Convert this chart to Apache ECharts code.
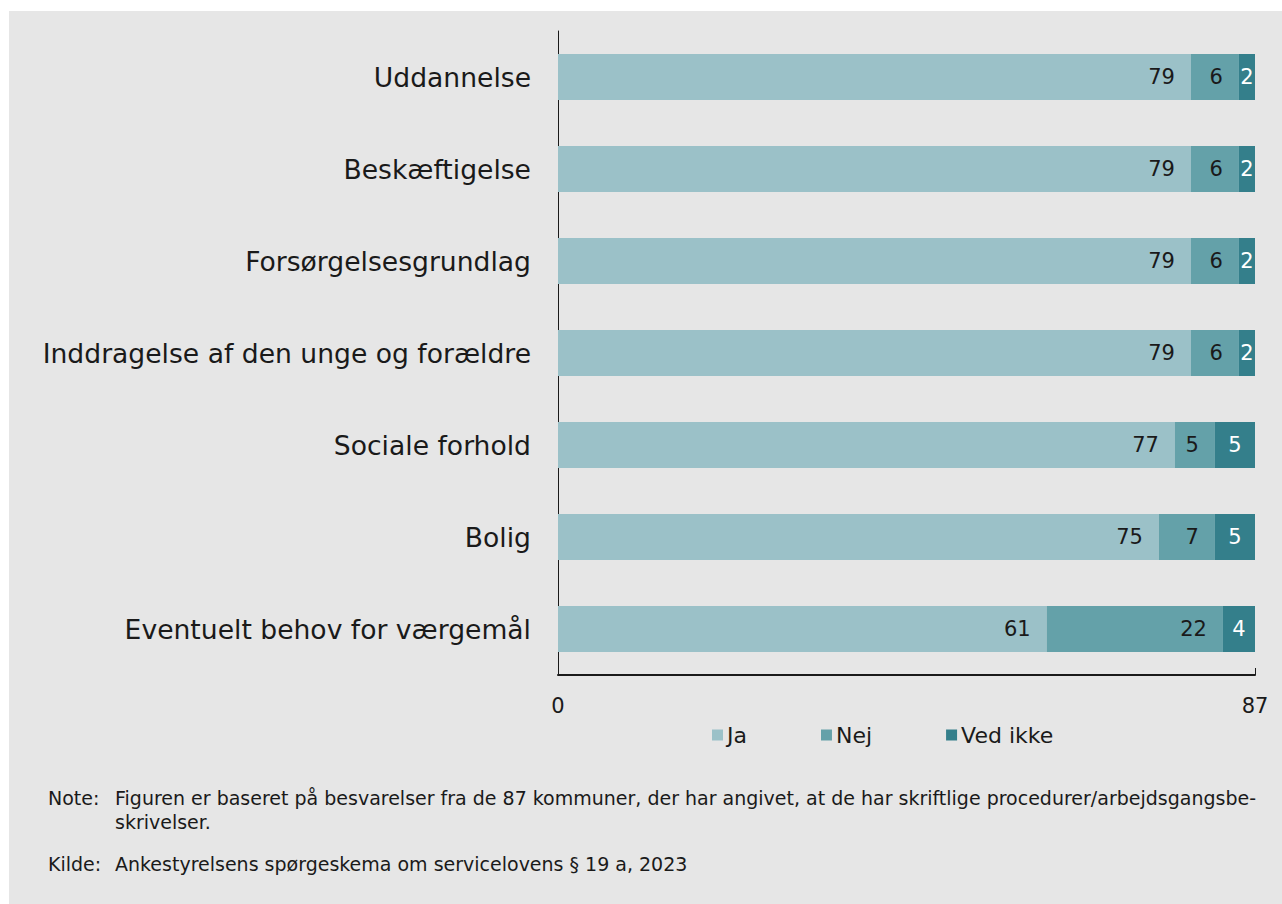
<!DOCTYPE html>
<html>
<head>
<meta charset="utf-8">
<script src="https://cdn.jsdelivr.net/npm/echarts@6/dist/echarts.min.js"></script>
<style>
  html, body { margin: 0; padding: 0; background: #ffffff; width: 1282px; height: 904px; overflow: hidden; }
  #bg { position: absolute; left: 9px; top: 11px; right: 0; bottom: 0; background: #e6e6e6; }
  #chart { position: absolute; left: 0; top: 0; width: 1282px; height: 904px; }
</style>
</head>
<body>
<div id="bg"></div>
<div id="chart"></div>
<script>
const categories = [
  "Uddannelse",
  "Beskæftigelse",
  "Forsørgelsesgrundlag",
  "Inddragelse af den unge og forældre",
  "Sociale forhold",
  "Bolig",
  "Eventuelt behov for værgemål"
];
const seriesNames = ["Ja", "Nej", "Ved ikke"];
const jaValues = [79, 79, 79, 79, 77, 75, 61];
const nejValues = [6, 6, 6, 6, 5, 7, 22];
const vedIkkeValues = [2, 2, 2, 2, 5, 5, 4];
const axisMax = 87;
const noteLines = [
  ["Note:", "Figuren er baseret på besvarelser fra de 87 kommuner, der har angivet, at de har skriftlige procedurer/arbejdsgangsbe-"],
  ["", "skrivelser."],
  ["Kilde:", "Ankestyrelsens spørgeskema om servicelovens § 19 a, 2023"]
];

const FONT = "'DejaVu Sans', Verdana, sans-serif";
const colors = ["#9bc1c8", "#64a1a9", "#347f8b"];
const chart = echarts.init(document.getElementById('chart'), null, { renderer: 'svg' });

function makeSeries(name, data, color, labelPos, labelColor) {
  return {
    name: name,
    type: 'bar',
    stack: 'total',
    data: data,
    barWidth: '50%',
    itemStyle: { color: color },
    label: {
      show: true,
      position: labelPos,
      distance: labelPos === 'insideRight' ? 16 : 5,
      color: labelColor,
      fontFamily: FONT,
      fontSize: 21
    },
    emphasis: { disabled: true },
    animation: false
  };
}

const noteY = [800, 824, 866];
const graphics = [];
noteLines.forEach((ln, i) => {
  if (ln[0]) graphics.push({ type: 'text', left: 48, top: noteY[i] - 12, style: { text: ln[0], fontFamily: FONT, fontSize: 19, fill: '#1a1a1a' } });
  graphics.push({ type: 'text', left: 115, top: noteY[i] - 12, style: { text: ln[1], fontFamily: FONT, fontSize: 19, fill: '#1a1a1a' } });
});

chart.setOption({
  backgroundColor: 'transparent',
  animation: false,
  grid: { left: 558, right: 27, top: 31, bottom: 229, containLabel: false },
  legend: {
    data: seriesNames,
    left: 712,
    top: 724,
    padding: 0,
    icon: 'rect',
    itemWidth: 11,
    itemHeight: 11,
    itemGap: 74,
    textStyle: { fontFamily: FONT, fontSize: 22, color: '#1a1a1a', padding: [0, 0, 0, -1] },
    selectedMode: false
  },
  xAxis: {
    type: 'value',
    min: 0,
    max: axisMax,
    interval: axisMax,
    axisLine: { show: true, lineStyle: { color: '#1a1a1a', width: 2 } },
    axisTick: { show: true, inside: true, length: 7, lineStyle: { color: '#1a1a1a', width: 1 } },
    splitLine: { show: false },
    axisLabel: { fontFamily: FONT, fontSize: 21, color: '#1a1a1a', margin: 20 }
  },
  yAxis: {
    type: 'category',
    data: categories,
    inverse: true,
    axisLine: { show: true, lineStyle: { color: '#1a1a1a', width: 1 } },
    axisTick: { show: false },
    axisLabel: { fontFamily: FONT, fontSize: 26.6, color: '#1a1a1a', margin: 27 }
  },
  series: [
    makeSeries(seriesNames[0], jaValues, colors[0], 'insideRight', '#1a1a1a'),
    makeSeries(seriesNames[1], nejValues, colors[1], 'insideRight', '#1a1a1a'),
    makeSeries(seriesNames[2], vedIkkeValues, colors[2], 'inside', '#ffffff')
  ],
  graphic: graphics
});
</script>
</body>
</html>
